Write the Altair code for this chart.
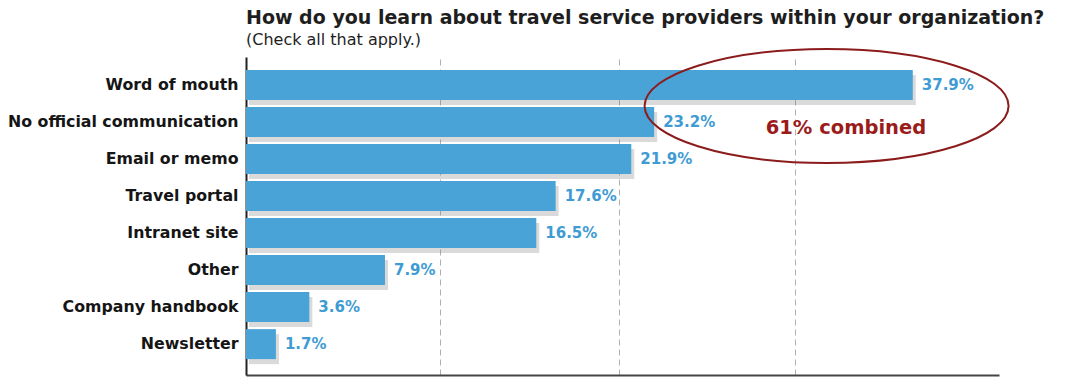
import altair as alt
import pandas as pd

categories = ["Word of mouth", "No official communication", "Email or memo",
              "Travel portal", "Intranet site", "Other", "Company handbook", "Newsletter"]
values = [37.9, 23.2, 21.9, 17.6, 16.5, 7.9, 3.6, 1.7]
value_labels = ["37.9%", "23.2%", "21.9%", "17.6%", "16.5%", "7.9%", "3.6%", "1.7%"]
grid_values = [11.0, 21.2, 31.2]

title_text = "How do you learn about travel service providers within your organization?"
subtitle_text = "(Check all that apply.)"

annotation_text = ["61% combined"]
annotation_text_x = [34.1]
annotation_text_cat = ["No official communication"]
ellipse_x = [33.0]
ellipse_cat = ["Word of mouth"]

df = pd.DataFrame({"category": categories, "value": values, "label": value_labels})
ann_df = pd.DataFrame({"x": annotation_text_x, "category": annotation_text_cat, "text": annotation_text})
ell_df = pd.DataFrame({"x": ellipse_x, "category": ellipse_cat})

FONT = "DejaVu Sans"

y_scale = alt.Scale(domain=categories, paddingInner=0.19, paddingOuter=0.39, align=0.45)
y_axis = alt.Axis(title=None, labelFont=FONT, labelFontWeight="bold", labelFontSize=15.8,
                  labelColor="#151515", ticks=False, labelPadding=8, labelLimit=400,
                  domainColor="#222222", domainWidth=2, grid=False)
x_scale = alt.Scale(domain=[0, 42.8], nice=False, zero=True)
x_axis = alt.Axis(title=None, labels=False, ticks=False, values=grid_values, grid=True,
                  gridDash=[6, 4], gridColor="#b0b0b0", gridWidth=1,
                  domainColor="#444444", domainWidth=2)


def xq(field):
    return alt.X(field, type="quantitative", scale=x_scale, axis=x_axis)


def yn():
    return alt.Y("category:N", sort=categories, scale=y_scale, axis=y_axis)


base = alt.Chart(df)

shadow = base.mark_bar(color="#7a7a7a", opacity=0.28, xOffset=3, yOffset=5).encode(
    x=xq("value"), y=yn())
bars = base.mark_bar(color="#4aa3d7").encode(x=xq("value"), y=yn())
labels = base.mark_text(align="left", baseline="middle", dx=9, font=FONT, fontWeight="bold",
                        fontSize=15, color="#3f9bd4").encode(
    x=xq("value"), y=yn(), text="label:N")

ellipse = alt.Chart(ell_df).mark_point(
    shape="M-1,0A1,0.313 0 1,0 1,0A1,0.313 0 1,0 -1,0Z",
    size=132496, filled=False, stroke="#8c1c1c", strokeWidth=2, opacity=1, yOffset=21,
).encode(x=xq("x"), y=yn())

ann = alt.Chart(ann_df).mark_text(align="center", baseline="middle", dy=6, font=FONT,
                                  fontWeight="bold", fontSize=19.5, color="#9b1b1b").encode(
    x=xq("x"), y=yn(), text="text:N")

chart = alt.layer(shadow, bars, labels, ellipse, ann).properties(
    width=753, height=318, background="white",
    title=alt.TitleParams(text=title_text, subtitle=subtitle_text, anchor="start", frame="group",
                          font=FONT, fontSize=19, fontWeight="bold", color="#1e1e1e",
                          subtitleFont=FONT, subtitleFontSize=16, subtitleColor="#1e1e1e",
                          offset=-3, subtitlePadding=4),
    autosize=alt.AutoSizeParams(type="none"),
    padding={"left": 238, "top": 49, "right": 60, "bottom": 2},
).configure_view(stroke="transparent", strokeWidth=0)

chart.save("out.html", embed_options={"renderer": "svg", "actions": False})
